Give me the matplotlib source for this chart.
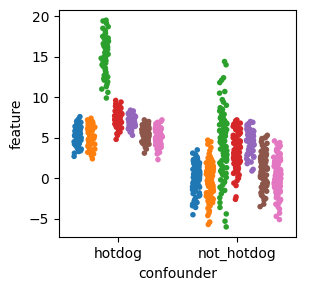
import numpy as np
import pandas as pd
import matplotlib
matplotlib.use("Agg")
import matplotlib.pyplot as plt
import seaborn as sns

confounders = ["hotdog", "not_hotdog"]
groups = ["g0", "g1", "g2", "g3", "g4", "g5", "g6"]

# values, one list per (confounder, hue group)
hotdog_g0 = [5.1, 4.3, 6.2, 3.8, 5.6, 4.9, 7.1, 3.4, 5.0, 6.5, 4.6, 5.8, 3.9, 6.9, 4.2, 5.3, 2.7, 6.0, 4.8, 5.5,
             3.6, 7.6, 4.4, 5.9, 5.2, 3.3, 6.4, 4.7, 5.4, 6.8, 4.0, 5.7, 3.7, 6.1, 4.5, 5.0, 7.3, 4.1, 6.3, 3.5,
             5.6, 4.9, 6.6, 3.1, 5.2, 4.3, 6.0, 5.8, 4.6, 7.0]
hotdog_g1 = [5.2, 4.6, 6.3, 3.9, 5.8, 4.1, 7.0, 3.3, 5.5, 6.6, 4.8, 5.9, 2.4, 6.1, 4.4, 5.3, 3.0, 6.8, 4.9, 5.6,
             3.6, 7.4, 4.2, 6.0, 5.1, 3.2, 6.4, 4.7, 5.4, 6.2, 3.8, 5.7, 4.0, 6.9, 4.5, 5.0, 2.8, 6.5, 4.3, 5.2,
             3.5, 5.9, 4.8, 6.7, 5.5, 4.6, 3.4, 6.1, 5.0, 7.2]
hotdog_g2 = [19.5, 19.4, 19.1, 18.7, 18.5, 18.2, 17.9, 17.8, 17.5, 17.3, 17.2, 17.0, 16.8, 16.6, 16.5, 16.3,
             16.2, 16.0, 15.9, 15.8, 15.6, 15.5, 15.3, 15.2, 15.0, 14.9, 14.8, 14.6, 14.5, 14.4, 14.2, 14.1,
             14.0, 13.8, 13.6, 13.5, 13.3, 13.1, 12.9, 12.7, 12.5, 12.3, 12.1, 11.9, 11.6, 11.3, 11.0, 10.6,
             9.9, 16.9]
hotdog_g3 = [9.6, 9.4, 9.2, 9.0, 8.9, 8.7, 8.6, 8.5, 8.4, 8.3, 8.2, 8.1, 8.0, 7.9, 7.9, 7.8, 7.7, 7.6, 7.6, 7.5,
             7.4, 7.3, 7.3, 7.2, 7.1, 7.0, 7.0, 6.9, 6.8, 6.7, 6.6, 6.5, 6.4, 6.3, 6.2, 6.1, 6.0, 5.9, 5.7, 5.5,
             5.3, 4.8, 8.8, 8.0, 7.5, 7.1, 6.6, 6.4, 7.7, 8.4]
hotdog_g4 = [8.4, 8.3, 8.2, 8.1, 8.0, 7.9, 7.9, 7.8, 7.7, 7.7, 7.6, 7.5, 7.5, 7.4, 7.3, 7.3, 7.2, 7.1, 7.1, 7.0,
             7.0, 6.9, 6.8, 6.8, 6.7, 6.6, 6.6, 6.5, 6.4, 6.4, 6.3, 6.2, 6.2, 6.1, 6.0, 6.0, 5.9, 5.8, 5.7, 5.3,
             7.4, 6.9, 7.6, 6.5, 7.2, 6.7, 7.8, 6.3, 7.0, 7.5]
hotdog_g5 = [7.2, 7.0, 6.9, 6.8, 6.7, 6.6, 6.5, 6.4, 6.3, 6.3, 6.2, 6.1, 6.0, 6.0, 5.9, 5.8, 5.8, 5.7, 5.6, 5.6,
             5.5, 5.4, 5.4, 5.3, 5.2, 5.2, 5.1, 5.0, 5.0, 4.9, 4.8, 4.7, 4.6, 4.5, 4.4, 4.3, 4.2, 4.0, 3.8, 3.6,
             3.1, 6.4, 5.9, 5.3, 4.9, 6.6, 5.7, 4.6, 6.1, 5.5]
hotdog_g6 = [7.2, 7.0, 6.9, 6.7, 6.6, 6.5, 6.4, 6.3, 6.2, 6.1, 6.0, 5.9, 5.8, 5.7, 5.7, 5.6, 5.5, 5.4, 5.3, 5.3,
             5.2, 5.1, 5.0, 5.0, 4.9, 4.8, 4.7, 4.6, 4.5, 4.4, 4.3, 4.2, 4.1, 4.0, 3.9, 3.8, 3.6, 3.4, 3.2, 3.0,
             2.3, 6.8, 5.6, 4.8, 6.2, 4.5, 5.4, 3.7, 6.0, 5.1]

not_hotdog_g0 = [3.5, 3.1, 2.9, 2.7, 2.5, 2.4, 2.2, 2.1, 2.0, 1.9, 1.8, 1.7, 1.6, 1.5, 1.4, 1.3, 1.2, 1.1, 1.0,
                 0.9, 0.9, 0.8, 0.7, 0.6, 0.6, 0.5, 0.4, 0.3, 0.3, 0.2, 0.1, 0.0, 0.0, -0.1, -0.2, -0.2, -0.3,
                 -0.4, -0.5, -0.5, -0.6, -0.7, -0.8, -0.9, -1.0, -1.1, -1.2, -1.3, -1.4, -1.5, -1.6, -1.8, -1.9,
                 -2.0, -2.2, -2.4, -2.6, -2.8, -3.0, -3.2, -3.4, -3.6, -4.5, 1.3, 0.4, -0.7, 2.3, -1.1, 0.1, 1.7,
                 -2.1, 0.8, -0.4, -1.7, 2.6, -2.9, 0.5, 1.1, -0.9, -3.1]
not_hotdog_g1 = [4.7, 4.5, 4.2, 3.8, 3.4, 3.0, 2.7, 2.5, 2.4, 2.3, 2.2, 2.1, 2.0, 1.9, 1.8, 1.7, 1.6, 1.5, 1.4,
                 1.3, 1.2, 1.1, 1.0, 0.9, 0.8, 0.7, 0.6, 0.5, 0.4, 0.3, 0.2, 0.1, 0.0, -0.1, -0.2, -0.3, -0.4,
                 -0.5, -0.6, -0.7, -0.8, -0.9, -1.0, -1.1, -1.2, -1.3, -1.4, -1.5, -1.6, -1.7, -1.8, -1.9, -2.0,
                 -2.1, -2.2, -2.3, -2.4, -2.5, -2.6, -2.7, -2.8, -2.9, -3.0, -3.2, -3.4, -3.7, -4.0, -4.3, -4.6,
                 -5.4, -5.7, 1.6, 0.4, -0.8, 2.0, -1.5, 0.9, -2.2, 1.2, -0.3, 0.6, -1.0, 2.2, -1.9, 0.1, -0.6,
                 1.4, -2.6]
not_hotdog_g2 = [14.4, 14.0, 12.4, 12.1, 11.8, 10.7, 10.5, 9.7, 9.4, 9.0, 8.7, 8.5, 8.3, 8.1, 7.9, 7.7, 7.6, 7.4,
                 7.2, 7.1, 6.9, 6.8, 6.6, 6.5, 6.3, 6.2, 6.0, 5.9, 5.7, 5.6, 5.5, 5.3, 5.2, 5.0, 4.9, 4.7, 4.6,
                 4.5, 4.3, 4.2, 4.0, 3.9, 3.7, 3.6, 3.4, 3.3, 3.1, 3.0, 2.8, 2.6, 2.5, 2.3, 2.1, 1.9, 1.7, 1.5,
                 1.3, 1.1, 0.9, 0.6, 0.4, 0.1, -0.2, -0.5, -0.8, -1.1, -1.5, -1.9, -2.4, -3.0, -3.6, -4.4, -5.3,
                 -6.0, 6.1, 4.4, 7.0, 2.9, 5.4, 3.8, 1.0, 6.7, 4.8, 2.2, -0.4, 5.8, 3.2, 7.5, 0.7, -1.3]
not_hotdog_g3 = [7.2, 7.1, 7.0, 6.9, 6.8, 6.7, 6.6, 6.5, 6.4, 6.3, 6.2, 6.1, 6.0, 5.9, 5.8, 5.7, 5.6, 5.5, 5.4,
                 5.3, 5.2, 5.1, 5.0, 4.9, 4.8, 4.7, 4.6, 4.5, 4.4, 4.3, 4.2, 4.1, 4.0, 3.9, 3.8, 3.7, 3.6, 3.5,
                 3.4, 3.3, 3.2, 3.1, 3.0, 2.9, 2.8, 2.7, 2.6, 2.5, 2.4, 2.3, 2.2, 2.1, 2.0, 1.9, 1.8, 1.7, 1.6,
                 1.5, 1.4, 1.3, 1.2, 1.1, 1.0, 0.9, 0.8, 0.6, 0.4, 0.2, 0.0, -0.3, -0.6, -0.9, -2.3, -2.6, 5.3,
                 4.0, 2.7, 3.5, 6.1, 1.8, 4.6, 3.1, 2.2, 5.0, 1.4, 3.8, 4.3, 2.5, 0.7, 6.4]
not_hotdog_g4 = [7.0, 6.9, 6.8, 6.7, 6.6, 6.5, 6.4, 6.3, 6.2, 6.1, 6.0, 5.9, 5.8, 5.7, 5.6, 5.5, 5.4, 5.3, 5.2,
                 5.1, 5.0, 4.9, 4.8, 4.7, 4.6, 4.5, 4.4, 4.3, 4.2, 4.1, 4.0, 3.9, 3.8, 3.7, 3.6, 3.5, 3.4, 3.3,
                 3.2, 3.1, 3.0, 2.9, 2.8, 2.6, 2.4, 2.2, 2.0, 1.8, 1.1, 0.9, 5.8, 4.9, 6.2, 3.9, 5.2, 4.4, 6.6,
                 3.4, 5.6, 4.7, 3.0, 5.0, 4.1, 6.0, 3.6, 4.6, 5.4, 2.7, 4.2, 5.9]
not_hotdog_g5 = [5.3, 5.1, 5.0, 4.9, 4.7, 4.5, 4.3, 4.1, 4.0, 3.8, 3.6, 3.5, 3.3, 3.2, 3.0, 2.9, 2.7, 2.6, 2.4,
                 2.3, 2.1, 2.0, 1.8, 1.7, 1.5, 1.4, 1.2, 1.1, 0.9, 0.8, 0.6, 0.5, 0.3, 0.2, 0.0, -0.1, -0.3,
                 -0.4, -0.6, -0.7, -0.9, -1.0, -1.2, -1.3, -1.5, -1.6, -1.8, -1.9, -2.1, -2.3, -2.5, -2.7, -3.2,
                 -3.5, 3.9, 2.5, 1.0, -0.5, 1.6, 0.4, 2.2, -1.1, 3.1, 0.7, 1.9, -0.2, 2.8, -1.4, 1.3, 0.1, 3.4,
                 -0.8, 2.0, 0.9]
not_hotdog_g6 = [4.6, 4.4, 4.2, 4.0, 3.8, 3.6, 3.4, 3.2, 3.0, 2.8, 2.6, 2.4, 2.2, 2.0, 1.8, 1.6, 1.4, 1.2, 1.0,
                 0.8, 0.6, 0.4, 0.2, 0.0, -0.2, -0.4, -0.6, -0.8, -1.0, -1.2, -1.4, -1.6, -1.8, -2.0, -2.2, -2.4,
                 -2.6, -2.8, -3.0, -3.2, -3.5, -3.8, -4.3, -4.7, -5.1, 3.1, 2.1, 1.1, 0.1, -0.9, -1.9, 2.7, 1.7,
                 0.7, -0.3, -1.3, -2.3, 3.5, 2.3, 1.3, 0.3, -0.7, -1.7, -2.7, 1.9, 0.9, -0.1, -1.1, 2.5, 1.5,
                 0.5, -0.5, -1.5, -2.1]

hotdog = [hotdog_g0, hotdog_g1, hotdog_g2, hotdog_g3, hotdog_g4, hotdog_g5, hotdog_g6]
not_hotdog = [not_hotdog_g0, not_hotdog_g1, not_hotdog_g2, not_hotdog_g3,
              not_hotdog_g4, not_hotdog_g5, not_hotdog_g6]

rows = []
for conf, series in zip(confounders, [hotdog, not_hotdog]):
    for g, vals in zip(groups, series):
        for v in vals:
            rows.append((conf, g, v))
df = pd.DataFrame(rows, columns=["confounder", "group", "feature"])

np.random.seed(0)
fig, ax = plt.subplots(figsize=(3.3, 2.9), dpi=100)
sns.stripplot(data=df, x="confounder", y="feature", hue="group", dodge=True,
              jitter=0.22, size=4, palette="tab10", legend=False, ax=ax)
fig.subplots_adjust(left=0.179, right=0.897, bottom=0.182, top=0.966)
fig.savefig("out.png", dpi=100)
